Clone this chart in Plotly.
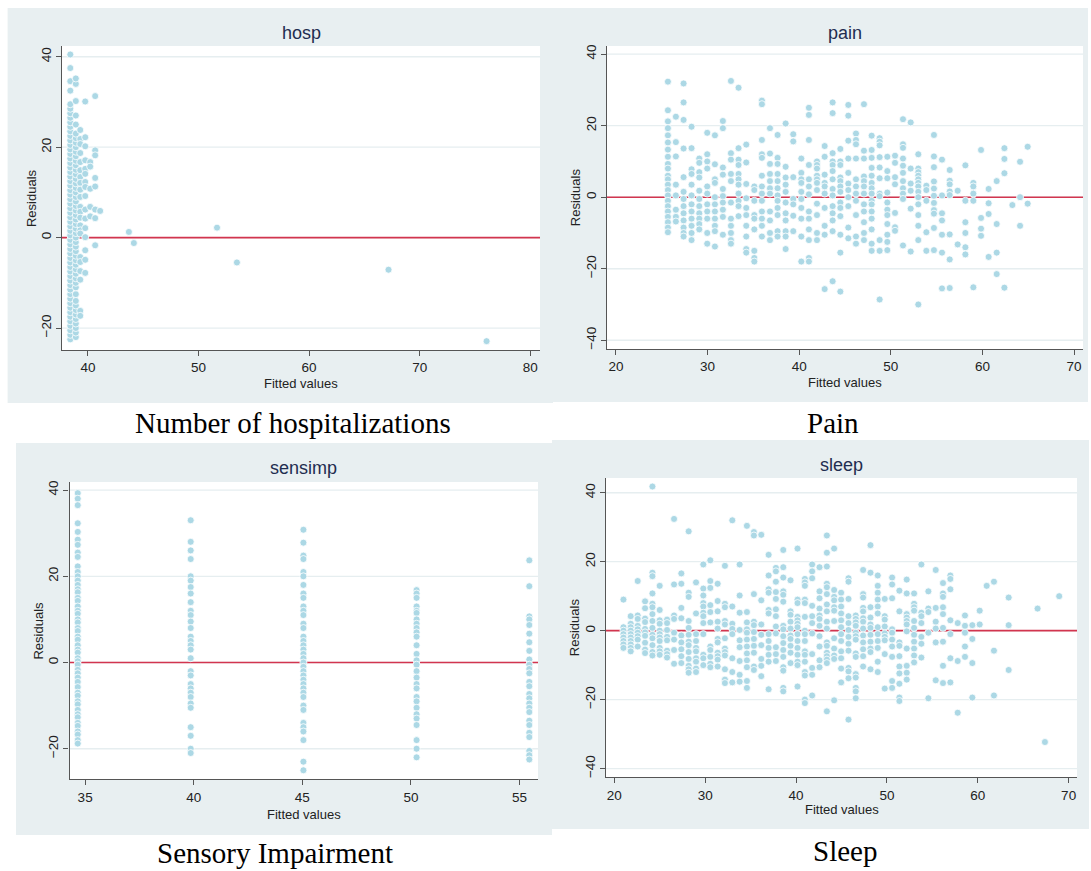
import plotly.graph_objects as go

# ---------------- data ----------------
# hosp: fitted-value columns and their residuals
hosp_cols = [38.4, 38.9, 39.3, 39.75, 40.2, 40.65, 41.1, 43.7, 44.15, 51.67, 53.47, 67.18, 76.05]
hosp_resid = [
    [-22.5, -21.5, -20.5, -19.5, -18.5, -17.5, -16.5, -15.5, -14.5, -13.5, -12.5, -11.5, -10.5, -9.5,
     -8.5, -7.5, -6.5, -5.5, -4.5, -3.5, -2.5, -1.5, -0.5, 0.5, 1.5, 2.5, 3.5, 4.5, 5.5, 6.5, 7.5,
     8.5, 9.5, 10.5, 11.5, 12.5, 13.5, 14.5, 15.5, 16.5, 17.5, 18.5, 19.5, 20.5, 21.5, 22.5, 23.5,
     24.5, 25.5, 26.5, 27.5, 28.5, 29.5, 32.5, 34.6, 37.5, 40.5],
    [-22, -21, -20, -19, -18, -17, -16, -15, -14, -12.5, -11, -10, -9, -8, -7, -6, -5, -4, -3, -2,
     -1, 0, 1, 2, 3, 4, 5, 6, 7, 8, 9, 10, 11, 12, 13, 14, 15, 16, 17, 18, 19, 20, 21, 22, 23, 25,
     27, 30.2, 34, 35.2],
    [23.8, 21.8, 20.7, 18.7, 16.7, 14.9, 13.4, 12.1, 10.6, 9.0, 6.8, 5.7, 4.4, 2.7, 1.6, 0.9, -4.3,
     -5.4, -7.4, -9.3, -16.2, -17.3],
    [30.1, 22.2, 20.2, 17.1, 15.2, 14.1, 12.3, 11.2, 9.2, 6.2, 4.2, 2.1, 0.1, -2.8, -4.9, -7.8],
    [16.7, 15.7, 10.8, 6.8, 4.7],
    [31.3, 19.3, 18.2, 13.2, 11.3, 6.2, 4.3, -1.7],
    [5.9],
    [1.25], [-1.2], [2.2], [-5.5], [-7.1], [-22.9],
]

pain_cols = [25.67, 26.54, 27.38, 28.25, 29.09, 29.96, 30.8, 31.67, 32.55, 33.38, 34.22, 35.1,
             35.93, 36.81, 37.64, 38.52, 39.35, 40.23, 41.06, 41.94, 42.78, 43.65, 44.49, 45.36,
             46.2, 47.07, 47.91, 48.78, 49.62, 50.46, 51.33, 52.17, 53.0, 53.88, 54.71, 55.59,
             56.43, 57.3, 58.14, 59.01, 59.85, 60.68, 61.56, 62.4, 63.27, 64.11, 64.94]
pain_resid = [
    [32.3, 24.3, 21.2, 19.3, 17.3, 15.3, 13.3, 11.3, 9.3, 8, 6, 5, 3.5, 2, 0.5, -1, -2.5, -4, -5.5, -7, -8.5, -9.8],
    [22.5, 15.4, 11.4, 3.5, 0.5, -3.5, -5.5, -6.8],
    [31.8, 26.5, 21.6, 13.6, 5.6, 1.5, -0.5, -2.5, -4.5, -6.5, -8.5, -10, -11],
    [19.7, 13.7, 7.8, 6.5, 3.5, 0.5, -2, -4, -6, -8, -10, -12],
    [10.8, 9.6, 7, 5.5, 1.8, -0.5, -2.5, -4.5, -6, -7.5, -9],
    [18, 12, 10, 8, 3, 1, -2, -4, -6, -10, -13],
    [17.3, 9.2, 5, 4, 0, -2, -4, -6, -8, -9.5, -13.8],
    [21.3, 19.3, 8.3, 6.3, 2.3, 0.3, -1.5, -3.5, -5.5, -10.5],
    [32.5, 12.3, 10.5, 6.5, 4.5, -1.5, -6, -8, -10, -12, -13],
    [30.6, 13.7, 10.5, 9, 6.5, 5, 3.5, 1, -1, -2.5, -5.3],
    [14.7, 9.7, 3.7, -0.3, -3, -5, -8, -11, -14.5, -15.5],
    [3, 2, -1, -5, -6, -9, -15, -17, -18],
    [27, 26, 16, 12, 11, 6, 3, 1, -1, -4, -6, -8, -11],
    [19.3, 12.2, 9.3, 6.5, 4.5, 2.5, 1, -4, -6.5, -10, -12],
    [17.4, 11, 9.3, 6.5, 4.5, 2.5, 0.5, -1, -3, -5, -9.5, -11],
    [20.6, 8.5, 5.5, 3.5, 1.5, -1.5, -4.5, -6.5, -9.5, -11, -14.5],
    [17.6, 15.6, 5.6, -0.5, -2, -5.2, -9.5],
    [10.8, 6.8, 5, 4, 1.5, -0.5, -3, -6, -11, -18],
    [25, 23, 16, 9, 5, 3, 0.8, -4, -6, -9, -12, -17, -18],
    [10, 9, 8, 6, 5, 4, 2, -1.8, -5, -10, -12],
    [14.3, 11.3, 6.3, 4, 3, 1, -3, -8, -10.5, -25.7],
    [26.5, 23.5, 12.3, 10, 9, 7.3, 5, 2.3, 0.5, -2.5, -4.5, -6.5, -9.5, -23.5],
    [13.5, 10, 9, 5.5, 4.5, 3, 1.5, -1.5, -3, -5.3, -10.5, -15.5, -26.4],
    [25.8, 22.8, 15.8, 10.8, 6.8, 3.8, 2, 0, -2.5, -8.5, -11.5],
    [17.8, 16, 14.8, 10.8, 5, 3, 1, -1, -5, -11, -13],
    [26, 13, 10.8, 5.8, 4.5, 3, 1, -2, -4, -7, -10, -12],
    [17.2, 13.2, 11, 8.2, 6, 4, 2.5, 1, -1, -2, -4, -6, -9, -13, -15],
    [16.5, 15.5, 14.5, 11.2, 8.3, 5.3, 1, 0.3, -12, -15, -28.6],
    [11.3, 7.3, 5.3, 1.3, -1.5, -3.5, -5, -7.5, -10.5, -12.5, -14.8],
    [11.6, 9.6, 5.6, 3.6, -4.4, -8.4, -9.4],
    [21.8, 14.8, 13.8, 10.8, 8.8, 6.8, 4.5, 2.5, 1, -0.5, -13.5],
    [20.9, 8, 3.8, 1.8, -3.2, -15.2],
    [12, 8, 7, 6, 5, 4, 3, 1.5, 0, -2, -5, -8, -12, -30],
    [3.2, 2, -1, -9.8, -15],
    [17.4, 11.4, 8.4, 4.4, 2.4, 0.4, -1.6, -3.6, -4.6, -8.6, -14.8],
    [10.5, 0.5, -4.5, -6.5, -10.5, -15.5, -25.5],
    [7.6, 4.6, 3.6, 1.6, 0.6, -10.4, -17.4, -25.4],
    [1.8, -13.2],
    [8.9, -1, -7, -10, -14, -16],
    [4, 3, 1, -1, -25.2],
    [13.2, -5.8, -8.8, -10.8],
    [2.3, -1.7, -4.7, -16.7],
    [4.5, -7.5, -15.5, -21.5],
    [13.7, 10.7, 6.7, -25.3],
    [-2.2],
    [9.9, 0, -8],
    [14.1, -1.8],
]

sens_cols = [34.66, 39.86, 45.05, 50.26, 55.45]
sens_resid = [
    [39.3, 38, 36.5, 32.3, 30.3, 28.5, 27.3, 25.5, 24.5, 22.3, 21, 20, 19, 18, 17, 16.3, 15, 14.3,
     13, 12, 11.3, 10, 9.3, 8, 7.3, 6, 5.3, 4, 3, 2.3, 1, 0.3, -0.5, -1.7, -2.5, -3.5, -4.5, -5.7,
     -7, -7.7, -9, -9.7, -11, -12, -12.7, -14, -14.7, -16, -16.7, -18, -18.8],
    [33, 28, 26, 24, 20, 19, 17.5, 16, 14, 12, 11, 9.5, 8, 6, 5, 4, 3, 1, -2, -3, -5, -6, -7, -8,
     -9.5, -10.5, -15, -17, -20, -21],
    [30.8, 27.8, 24.8, 24, 21, 20, 18, 16, 15, 13, 12, 11, 9, 8, 6, 5, 4, 3, 2, 1, 0, -1, -2, -3,
     -4, -5, -6, -7, -8, -10, -11, -14, -15, -16, -18, -23, -25],
    [16.8, 16, 15, 13, 12, 11.5, 10, 9, 8, 7, 6, 4, 2, 0.5, -0.5, -2, -3.5, -5, -6, -8, -9, -10.5,
     -12, -13, -14.5, -18, -20, -22],
    [23.7, 17.7, 10.7, 10, 8.7, 6.7, 4.7, 2.7, 0.7, -0.5, -1.5, -2.5, -4.5, -5.5, -7.3, -8.3, -9.5,
     -10.5, -11.5, -13.5, -14.5, -16.3, -17.3, -20.5, -21.5, -22.5],
]

sleep_cols = [21.0, 21.8, 22.57, 23.38, 24.19, 24.99, 25.8, 26.57, 27.37, 28.18, 28.99, 29.79,
              30.56, 31.37, 32.17, 32.98, 33.79, 34.59, 35.36, 36.17, 36.98, 37.78, 38.59, 39.39,
              40.16, 40.97, 41.77, 42.58, 43.39, 44.19, 44.96, 45.77, 46.57, 47.38, 48.19, 48.99,
              49.76, 50.57, 51.37, 52.18, 52.99, 53.79, 54.56, 55.37, 56.17, 56.98, 57.79, 58.59,
              59.4, 60.21, 60.98, 61.78, 63.4, 66.58, 67.39, 68.96]
sleep_resid = [
    [9, 1, 0, -1, -2, -3, -4, -5],
    [4.2, 2, 1, 0, -1, -2, -3, -4, -5, -6],
    [14.4, 4.4, 3.4, 1.4, 0.4, -0.6, -1.6, -2.6, -4.6],
    [8.5, 6.5, 3.5, 2.5, 0.5, -0.5, -1.5, -3.5, -5.5, -6.5],
    [41.8, 16.8, 15.8, 10.8, 7.8, 6.8, 4.8, 2.8, 0.8, -1.2, -2.2, -4.2, -6.2, -7.2],
    [13, 6, 3, 2, 0, -1, -2, -3, -5, -6, -7],
    [3.2, 2.2, 0.2, -1.8, -2.8, -5.8, -6.8, -7.8],
    [32.4, 13.4, 4.4, 3.4, -0.6, -2.6, -5.6, -9.6],
    [16.6, 13.6, 6.6, 3.6, -1.4, -3.4, -5.4, -7.4, -9.4],
    [28.8, 11, 9.8, 2.8, 0.8, -1.2, -3.2, -4.2, -6.2, -8.2, -10.2, -11.2, -12.2],
    [14, 5, -1, -3, -5, -6, -8, -9, -11, -12],
    [19.2, 12.2, 10.2, 8, 7, 5.2, 4.2, 2.2, -1, -7, -8, -10],
    [20.4, 14.4, 12.4, 7.4, 5.4, 2.4, -4.6, -5.6, -7.6, -9.6, -10.6],
    [13.6, 8.6, 5.6, 2.6, 0.6, -2.4, -3.4, -6.4, -7.4, -8.4, -10.4],
    [18.8, 7.8, 6.8, 2.8, 1.8, -2.2, -5.2, -6.2, -7.2, -11.2, -14.2, -15.2],
    [32, 7, 2, 0.5, -1, -8, -12, -15],
    [19.2, 10.2, 5.2, 0.2, -2.8, -4.8, -8.8, -12.8, -14.8],
    [30.4, 5.4, 2.4, 0.4, -0.6, -2.6, -4.6, -6.6, -8.6, -10.6, -14.6, -16.6],
    [28.6, 27.6, 10.6, 2.6, 1.6, -0.4, -2.4, -4.4, -6.4, -10.4, -11.4],
    [27.8, 8.8, 1.8, -1.2, -4.2, -8.2, -10.2, -13.2],
    [22, 16, 12, 11, 6, 5, -1, -3, -5, -7, -9, -17],
    [18.2, 17.2, 14.2, 11.2, 9.2, 6.2, 4.2, 1.2, -0.8, -4.8, -6.8, -8.8],
    [23.4, 18.4, 15.4, 11.4, 10.4, 8.4, 1.4, 0.4, -1.6, -3.6, -5.6, -7.6, -10.6, -11.6, -16.6, -17.6],
    [14.6, 5.6, 4.6, 2.6, 0.6, -1.4, -2.4, -4.4, -6.4, -9.4],
    [23.8, 9, 8, 4, 3, 2, 1, -1, -3, -5, -7, -9, -10, -16.2],
    [15, 14, 13, 9, 8, 4, 0, -1, -3, -6, -7, -9, -12, -13, -20, -21],
    [19.2, 17.2, 15.2, 7.2, 4.2, 2.2, -0.8, -6.8, -10.8, -12.8, -18.8],
    [18.4, 11.4, 9.4, 6.4, 4.4, 3.4, 1.4, -1.6, -4.6, -8.6, -10.6],
    [27.6, 22.6, 18.6, 13.6, 12.6, 10.6, 7.6, 5.6, 2.6, 0.6, -3.4, -4.4, -6.4, -7.4, -8.4, -9.4, -23.4],
    [23.8, 11.8, 9.8, 8.8, 6.8, 5.8, 2.8, -2.2, -5.2, -7.2, -8.2, -20.2],
    [11, 9, 7, 5, 3, 1, -1, -3, -6, -8, -11, -15],
    [15.2, 14.2, 9.2, 4.2, 2.2, 0.2, -1.8, -3.8, -5.8, -10.8, -11.8, -13.8, -25.8],
    [4.4, 3.4, 2.4, 1.4, -0.6, -1.6, -2.6, -6.6, -7.6, -12.6, -13.6, -16.6, -17.6, -19.6],
    [17.6, 10.6, 9.6, 6.6, 5.6, 3.6, 2.6, 0.6, -1.4, -3.4, -5.4, -7.4, -10.4],
    [24.8, 16.8, 6.8, 3.8, 1.8, 0.8, -1.2, -3.2, -5.2, -6.2, -11.2],
    [16, 13, 11, 9, 7, 5, 1, -1, -3, -5, -9, -12],
    [9.2, 4.2, 3.2, 1.2, -0.8, -1.8, -2.8, -6.8, -16.8],
    [15.4, 13.4, 9.4, 0.4, -0.6, -2.6, -4.6, -7.6, -14.6, -16.6],
    [11.6, 5.6, -3.4, -4.4, -7.4, -10.4, -12.4, -15.4, -19.4, -20.4],
    [14.8, 10.8, 4.8, 3.8, 2.8, 1.8, -0.2, -5.2, -10.2, -12.2, -14.2],
    [10.8, 7.8, 6.8, 5.8, 2.8, 0.8, -1.2, -3.2, -5.2, -7.2, -9.2],
    [19.2, 5.2, 4.2, 2.2, -1.8, -3.8, -7.8],
    [11.4, 6.4, 5.4, -0.6, -19.6],
    [17.6, 6.6, 2.6, 0.6, -3.4, -14.4],
    [13.8, 10.8, 9.8, 6.8, 4.8, 0.8, -3.2, -10.2, -15.2],
    [16, 15, 12, 3, -1, -8, -15],
    [2.2, -8.8, -23.8],
    [4.4, 1.4, -0.6, -4.6, -7.6],
    [1.6, -2.4, -9.4, -19.4],
    [5.8, 1.8],
    [13],
    [14.2, -5.8, -18.8],
    [9.6, 1.6, -11.4],
    [6.4],
    [-32.3],
    [10],
]

panel_titles = ["hosp", "pain", "sensimp", "sleep"]
captions = ["Number of hospitalizations", "Pain", "Sensory Impairment", "Sleep"]
x_ticks = [[40, 50, 60, 70, 80], [20, 30, 40, 50, 60, 70], [35, 40, 45, 50, 55], [20, 30, 40, 50, 60, 70]]
y_ticks = [[-20, 0, 20, 40], [-40, -20, 0, 20, 40], [-20, 0, 20, 40], [-40, -20, 0, 20, 40]]
x_ranges = [[37.65, 80.88], [19.02, 70.98], [34.28, 55.85], [19.08, 70.92]]
y_ranges = [[-24.9, 42.4], [-42.5, 42.3], [-27.07, 41.9], [-42.5, 44.3]]
ref_line = 0  # horizontal reference line at residual = 0

# ---------------- layout geometry (pixels) ----------------
W, H = 1091, 871
plot_px = [(62, 540, 45, 350), (607, 1083, 45, 349), (69.5, 538, 482, 780), (606, 1077, 478, 778)]
bg_px = [(7.6, 553, 7, 403), (553, 1088, 7, 402), (16, 552, 443, 836), (552, 1089, 440, 830)]
title_y = [32, 32, 468, 465]
xtitle_y = [383, 382, 815, 810]
ytitle_x = [31, 575.6, 39, 574.6]
caption_pos = [(293, 423), (833, 423), (275, 854), (845, 852)]


def px(x):
    return x / W


def py(y):
    return 1 - y / H


def flat(cols, resid):
    xs, ys = [], []
    for c, rs in zip(cols, resid):
        for r in rs:
            xs.append(c)
            ys.append(r)
    return xs, ys


datasets = [flat(hosp_cols, hosp_resid), flat(pain_cols, pain_resid),
            flat(sens_cols, sens_resid), flat(sleep_cols, sleep_resid)]

MARKER = "#acd8e5"
RED = "#d2354f"
GRID = "#e6eef0"
BG = "#e8eff1"
AXIS = "#555555"
TXT = "#222222"
FONT = "Liberation Sans, Arial, sans-serif"

fig = go.Figure()
shapes = []
annotations = []
layout_axes = {}

for i in range(4):
    n = "" if i == 0 else str(i + 1)
    xa, ya = "x" + n, "y" + n
    x0, x1, y0, y1 = plot_px[i]
    xs, ys = datasets[i]
    fig.add_trace(go.Scatter(
        x=xs, y=ys, mode="markers", xaxis=xa, yaxis=ya, showlegend=False,
        marker=dict(size=7, color=MARKER, line=dict(color="white", width=0.8)),
        hoverinfo="x+y"))
    layout_axes["xaxis" + n] = dict(
        domain=[px(x0), px(x1)], anchor=ya, range=x_ranges[i], tickvals=x_ticks[i],
        showgrid=False, zeroline=False, showline=True, linecolor=AXIS, linewidth=1.2,
        ticks="outside", ticklen=5, tickcolor=AXIS, tickwidth=1,
        ticklabeloverflow="allow",
        tickfont=dict(family=FONT, size=13.5, color=TXT), fixedrange=True)
    layout_axes["yaxis" + n] = dict(
        domain=[py(y1), py(y0)], anchor=xa, range=y_ranges[i], tickvals=y_ticks[i],
        showgrid=False, zeroline=False, showline=True,
        linecolor=AXIS, linewidth=1.2, ticks="outside", ticklen=5, tickcolor=AXIS,
        tickangle=-90, tickfont=dict(family=FONT, size=13.5, color=TXT), fixedrange=True)

    bx0, bx1, by0, by1 = bg_px[i]
    # outer graph region (light bluish gray) and white plot region
    shapes.append(dict(type="rect", xref="paper", yref="paper", x0=px(bx0), x1=px(bx1),
                       y0=py(by1), y1=py(by0), fillcolor=BG, line=dict(width=0), layer="below"))
    shapes.append(dict(type="rect", xref=xa + " domain", yref=ya + " domain", x0=0, x1=1,
                       y0=0, y1=1, fillcolor="white", line=dict(width=0), layer="below"))
    # horizontal grid lines at the y ticks
    for t in y_ticks[i]:
        shapes.append(dict(type="line", xref=xa + " domain", yref=ya, x0=0, x1=1, y0=t, y1=t,
                           line=dict(color=GRID, width=1.3), layer="below"))
    # red reference line at zero (below the markers)
    shapes.append(dict(type="line", xref=xa + " domain", yref=ya, x0=0, x1=1,
                       y0=ref_line, y1=ref_line,
                       line=dict(color=RED, width=1.6), layer="below"))

    cx = (x0 + x1) / 2
    annotations.append(dict(text=panel_titles[i], x=px(cx), y=py(title_y[i]), xref="paper",
                            yref="paper", showarrow=False, xanchor="center", yanchor="middle",
                            font=dict(family=FONT, size=18, color="#1f2d50")))
    annotations.append(dict(text="Fitted values", x=px(cx), y=py(xtitle_y[i]), xref="paper",
                            yref="paper", showarrow=False, xanchor="center", yanchor="middle",
                            font=dict(family=FONT, size=13, color=TXT)))
    annotations.append(dict(text="Residuals", x=px(ytitle_x[i]), y=py((y0 + y1) / 2),
                            xref="paper", yref="paper", showarrow=False, textangle=-90,
                            xanchor="center", yanchor="middle",
                            font=dict(family=FONT, size=13, color=TXT)))
    cxp, cyp = caption_pos[i]
    annotations.append(dict(text=captions[i], x=px(cxp), y=py(cyp), xref="paper", yref="paper",
                            showarrow=False, xanchor="center", yanchor="middle",
                            font=dict(family="Liberation Serif, Times New Roman, serif",
                                      size=29, color="black")))

fig.update_layout(
    width=W, height=H, margin=dict(l=0, r=0, t=0, b=0),
    paper_bgcolor="white", plot_bgcolor="white",
    shapes=shapes, annotations=annotations, **layout_axes)

# remove the page's default body margin so the figure fills the window exactly
fig.write_html("out.html", config={"displayModeBar": False},
               post_script="document.body.style.margin='0px';document.body.style.overflow='hidden';")
